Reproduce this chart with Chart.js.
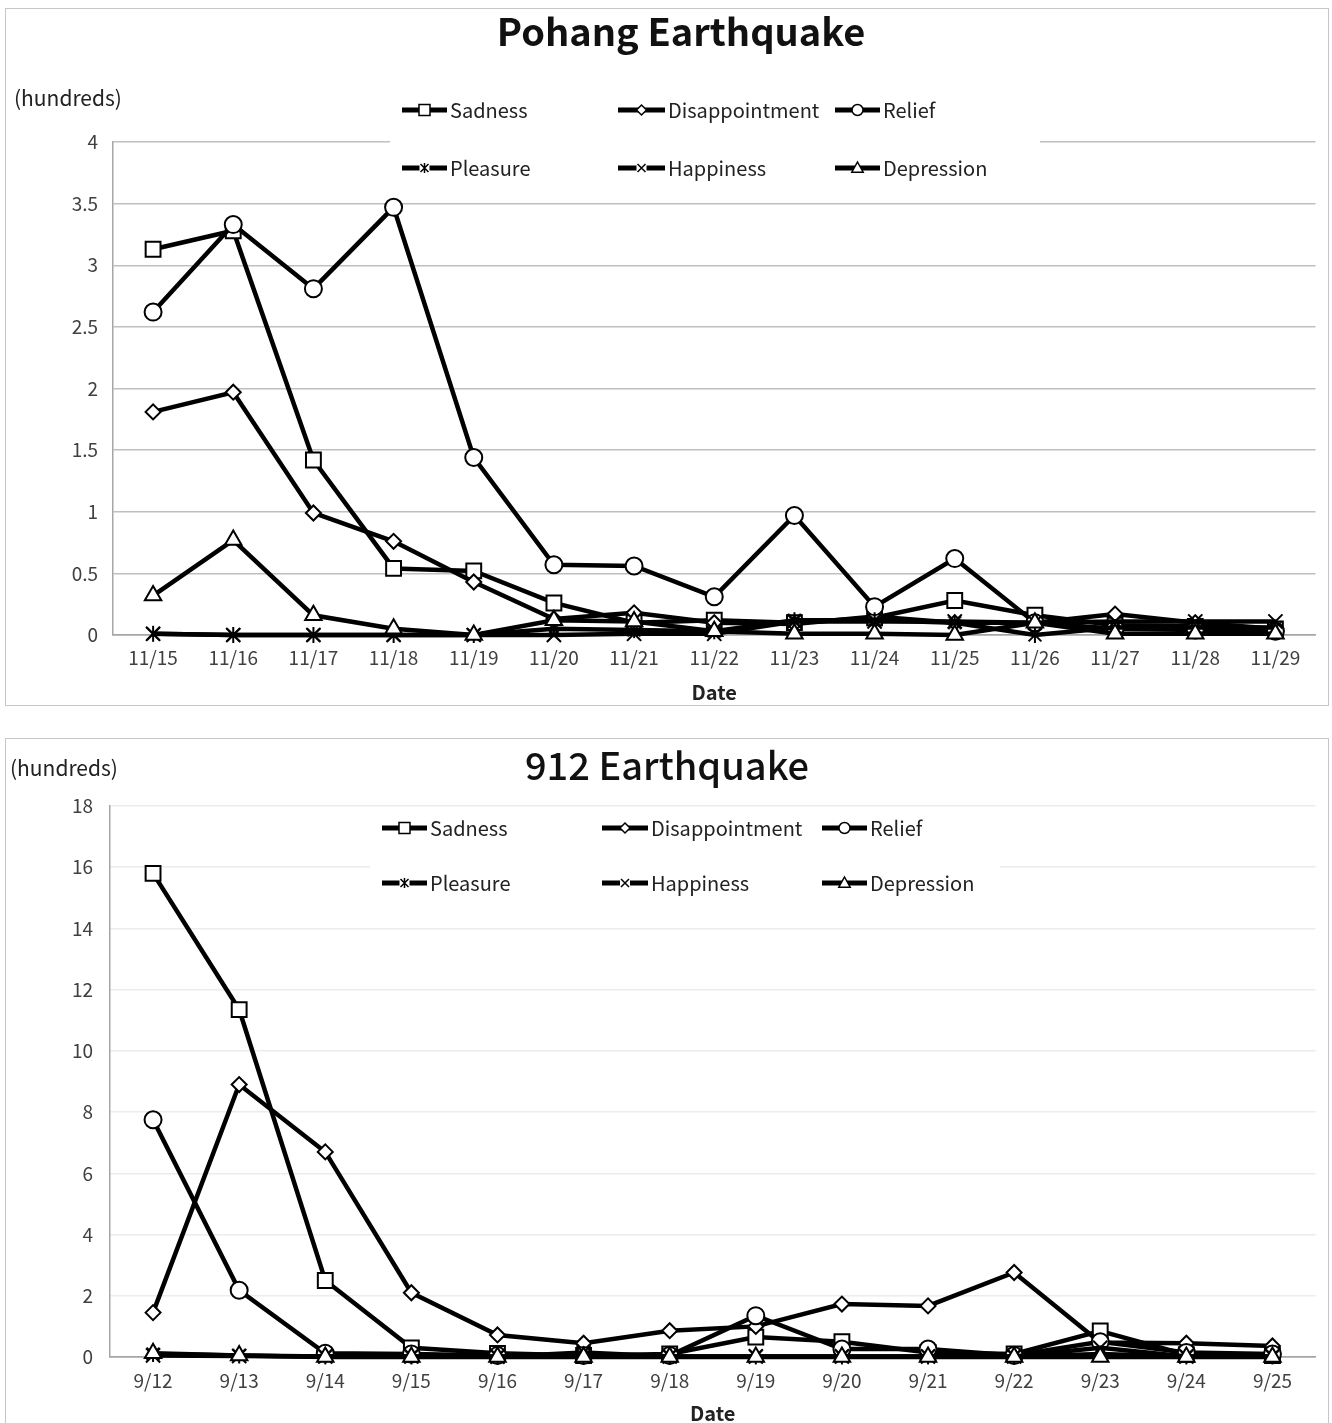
<!DOCTYPE html>
<html>
<head>
<meta charset="utf-8">
<script src="https://cdn.jsdelivr.net/npm/chart.js@4.4.0/dist/chart.umd.min.js"></script>
<style>
  body { margin: 0; background: #fff; }
  .box { position: absolute; left: 5px; width: 1324px; border: 1px solid #c6c6c6; box-sizing: border-box; background: #fff; }
  #box1 { top: 8px; height: 698px; }
  #box2 { top: 738px; height: 689px; }
  canvas { display: block; }
</style>
</head>
<body>
<div class="box" id="box1"><canvas id="pohangChart" width="1322" height="696"></canvas></div>
<div class="box" id="box2"><canvas id="quake912Chart" width="1322" height="687"></canvas></div>
<script>
// ---- data (hundreds of posts per day) ----
const emotionNames = ['Sadness', 'Disappointment', 'Relief', 'Pleasure', 'Happiness', 'Depression'];

const pohangDates = ['11/15', '11/16', '11/17', '11/18', '11/19', '11/20', '11/21', '11/22',
                     '11/23', '11/24', '11/25', '11/26', '11/27', '11/28', '11/29'];
const pohangSadness        = [3.13, 3.28, 1.42, 0.54, 0.52, 0.26, 0.10, 0.12, 0.10, 0.14, 0.28, 0.16, 0.08, 0.07, 0.05];
const pohangDisappointment = [1.81, 1.97, 0.99, 0.76, 0.43, 0.13, 0.18, 0.10, 0.09, 0.15, 0.10, 0.10, 0.17, 0.10, 0.05];
const pohangRelief         = [2.62, 3.33, 2.81, 3.47, 1.44, 0.57, 0.56, 0.31, 0.97, 0.23, 0.62, 0.10, 0.05, 0.04, 0.03];
const pohangPleasure       = [0.01, 0.00, 0.00, 0.00, 0.00, 0.05, 0.04, 0.03, 0.12, 0.12, 0.10, 0.00, 0.06, 0.06, 0.06];
const pohangHappiness      = [0.01, 0.00, 0.00, 0.00, 0.00, 0.00, 0.01, 0.01, 0.11, 0.11, 0.11, 0.10, 0.11, 0.11, 0.11];
const pohangDepression     = [0.32, 0.77, 0.16, 0.05, 0.00, 0.12, 0.11, 0.03, 0.01, 0.01, 0.00, 0.10, 0.01, 0.01, 0.01];
const pohangTicks = [0, 4, 0.5];   // min, max, step

const quakeDates = ['9/12', '9/13', '9/14', '9/15', '9/16', '9/17', '9/18',
                    '9/19', '9/20', '9/21', '9/22', '9/23', '9/24', '9/25'];
const quakeSadness        = [15.8, 11.35, 2.5, 0.30, 0.12, 0.05, 0.10, 0.65, 0.50, 0.15, 0.10, 0.85, 0.08, 0.05];
const quakeDisappointment = [1.45, 8.9, 6.7, 2.1, 0.72, 0.45, 0.86, 1.00, 1.73, 1.67, 2.76, 0.47, 0.45, 0.36];
const quakeRelief         = [7.75, 2.18, 0.12, 0.10, 0.05, 0.05, 0.05, 1.35, 0.26, 0.26, 0.05, 0.50, 0.15, 0.10];
const quakePleasure       = [0.10, 0.05, 0.02, 0.02, 0.02, 0.02, 0.02, 0.02, 0.02, 0.02, 0.02, 0.10, 0.02, 0.02];
const quakeHappiness      = [0.05, 0.03, 0.02, 0.02, 0.01, 0.15, 0.02, 0.02, 0.02, 0.02, 0.02, 0.30, 0.02, 0.02];
const quakeDepression     = [0.12, 0.05, 0.00, 0.00, 0.00, 0.00, 0.00, 0.00, 0.00, 0.00, 0.00, 0.00, 0.00, 0.00];
const quakeTicks = [0, 18, 2];

// ---- styling ----
const FONT = "'Noto Sans CJK KR', 'Noto Sans', sans-serif";
const markerStyles = ['rect', 'rectRot', 'circle', 'pleasure', 'crossRot', 'triangle'];
const markerRadius = { rect: 10.5, rectRot: 7.5, circle: 8.5, pleasure: 8, crossRot: 10, triangle: 9.5 };

// draws one marker shape, used for the legend
function drawMarker(ctx, style, x, y, r, lw) {
    ctx.save();
    ctx.lineWidth = lw;
    ctx.strokeStyle = '#000';
    ctx.fillStyle = '#fff';
    ctx.beginPath();
    if (style === 'rect') {
        ctx.rect(x - r, y - r, 2 * r, 2 * r);
    } else if (style === 'rectRot') {
        ctx.moveTo(x, y - r); ctx.lineTo(x + r, y); ctx.lineTo(x, y + r); ctx.lineTo(x - r, y); ctx.closePath();
    } else if (style === 'circle') {
        ctx.arc(x, y, r, 0, Math.PI * 2);
    } else if (style === 'triangle') {
        ctx.moveTo(x, y - r); ctx.lineTo(x + r * 0.95, y + r * 0.7); ctx.lineTo(x - r * 0.95, y + r * 0.7); ctx.closePath();
    }
    if (style === 'crossRot' || style === 'pleasure') {
        ctx.fillRect(x - r, y - r, 2 * r, 2 * r);
        ctx.beginPath();
        ctx.moveTo(x - r * 0.8, y - r * 0.8); ctx.lineTo(x + r * 0.8, y + r * 0.8);
        ctx.moveTo(x + r * 0.8, y - r * 0.8); ctx.lineTo(x - r * 0.8, y + r * 0.8);
        if (style === 'pleasure') { ctx.moveTo(x, y - r); ctx.lineTo(x, y + r); }
        ctx.stroke();
    } else {
        ctx.fill();
        ctx.stroke();
    }
    ctx.restore();
}

// point icon for Pleasure: an X with a vertical stroke through it
function makePleasureIcon(r, lw) {
    const c = document.createElement('canvas');
    const s = Math.ceil(2 * r + 2 * lw);
    c.width = s; c.height = s;
    const ctx = c.getContext('2d');
    ctx.lineWidth = lw;
    ctx.strokeStyle = '#000';
    ctx.beginPath();
    const h = s / 2;
    ctx.moveTo(h - r * 0.8, h - r * 0.8); ctx.lineTo(h + r * 0.8, h + r * 0.8);
    ctx.moveTo(h + r * 0.8, h - r * 0.8); ctx.lineTo(h - r * 0.8, h + r * 0.8);
    ctx.moveTo(h, h - r); ctx.lineTo(h, h + r);
    ctx.stroke();
    return c;
}
const pleasureIcon = makePleasureIcon(markerRadius.pleasure, 2);

// title, unit label and the boxed legend (grid of 3 columns x 2 rows)
const decorPlugin = {
    id: 'decor',
    afterDraw(chart, args, opts) {
        const ctx = chart.ctx;
        ctx.save();
        ctx.textBaseline = 'middle';
        ctx.fillStyle = '#111';
        ctx.textAlign = 'center';
        ctx.font = opts.titleFont;
        ctx.fillText(opts.title, opts.titlePos[0], opts.titlePos[1]);
        ctx.textAlign = 'left';
        ctx.font = '21px ' + FONT;
        ctx.fillStyle = '#222';
        ctx.fillText('(hundreds)', opts.unitPos[0], opts.unitPos[1]);

        const b = opts.legendBox;
        ctx.fillStyle = '#fff';
        ctx.fillRect(b[0], b[1], b[2], b[3]);
        ctx.font = '20px ' + FONT;
        chart.data.datasets.forEach((ds, i) => {
            const col = opts.legendCols[i % 3];
            const y = opts.legendRows[Math.floor(i / 3)];
            ctx.strokeStyle = '#000';
            ctx.lineWidth = 5;
            ctx.beginPath();
            ctx.moveTo(col[0], y);
            ctx.lineTo(col[1], y);
            ctx.stroke();
            const st = markerStyles[i];
            const r = st === 'rect' ? 5.5 : st === 'rectRot' ? 5 : st === 'circle' ? 5.5 : st === 'triangle' ? 6 : 5;
            drawMarker(ctx, st, (col[0] + col[1]) / 2, y, r, 1.5);
            ctx.fillStyle = '#222';
            ctx.textAlign = 'left';
            ctx.fillText(ds.label, col[1] + 3, y);
        });
        ctx.restore();
    }
};

function buildDatasets(seriesList) {
    return seriesList.map((values, i) => {
        const st = markerStyles[i];
        return {
            label: emotionNames[i],
            data: values,
            borderColor: '#000',
            borderWidth: 4.5,
            pointStyle: st === 'pleasure' ? pleasureIcon : st,
            pointRadius: markerRadius[st],
            pointBackgroundColor: '#fff',
            pointBorderColor: '#000',
            pointBorderWidth: 2,
            tension: 0,
            clip: false,
            order: 6 - i
        };
    });
}

function makeChart(canvasId, labels, seriesList, ticks, look) {
    const config = {
        type: 'line',
        data: { labels: labels, datasets: buildDatasets(seriesList) },
        plugins: [decorPlugin],
        options: {
            responsive: false,
            animation: false,
            events: [],
            layout: { padding: { top: look.top, left: 0, right: look.right, bottom: 0 } },
            plugins: {
                legend: { display: false },
                tooltip: { enabled: false },
                title: { display: false },
                decor: look.decor
            },
            scales: {
                x: {
                    offset: true,
                    grid: { display: false, drawTicks: false },
                    border: { display: true, color: look.zeroColor, width: 1.5 },
                    ticks: { color: '#404040', font: { family: FONT, size: 19 }, padding: look.xPad, maxRotation: 0, autoSkip: false },
                    title: { display: true, text: 'Date', color: '#222', font: { family: FONT, size: 20, weight: 'bold' }, padding: { top: 0, bottom: 1 } },
                    afterFit: (scale) => { scale.height = look.xHeight; }
                },
                y: {
                    min: ticks[0], max: ticks[1],
                    grid: {
                        drawTicks: false,
                        lineWidth: 1.5,
                        color: (c) => c.tick.value === 0 ? look.zeroColor : look.gridColor
                    },
                    border: { display: true, color: look.zeroColor, width: 1.5 },
                    ticks: {
                        stepSize: ticks[2], color: '#404040', font: { family: FONT, size: 19 }, padding: look.yPad,
                        callback: (value) => String(Number(value.toFixed(2)))
                    },
                    afterFit: (scale) => { scale.width = look.yWidth; }
                }
            }
        }
    };
    return new Chart(document.getElementById(canvasId), config);
}

makeChart('pohangChart', pohangDates,
    [pohangSadness, pohangDisappointment, pohangRelief, pohangPleasure, pohangHappiness, pohangDepression],
    pohangTicks, {
        top: 133, right: 7, xHeight: 70, yWidth: 107, xPad: 11, yPad: 15,
        gridColor: '#bfbfbf', zeroColor: '#a6a6a6',
        decor: {
            title: 'Pohang Earthquake', titleFont: 'bold 38px ' + FONT, titlePos: [675, 23],
            unitPos: [8, 89],
            legendBox: [384, 78, 650, 106],
            legendCols: [[396, 441], [612, 659], [829, 874]],
            legendRows: [101, 159]
        }
    });

makeChart('quake912Chart', quakeDates,
    [quakeSadness, quakeDisappointment, quakeRelief, quakePleasure, quakeHappiness, quakeDepression],
    quakeTicks, {
        top: 67, right: 12, xHeight: 69, yWidth: 104, xPad: 12, yPad: 17,
        gridColor: '#ececec', zeroColor: '#a6a6a6',
        decor: {
            title: '912 Earthquake', titleFont: '500 38px ' + FONT, titlePos: [661, 27],
            unitPos: [4, 29],
            legendBox: [364, 72, 630, 90],
            legendCols: [[376, 421], [596, 642], [816, 861]],
            legendRows: [89, 144]
        }
    });
</script>
</body>
</html>
